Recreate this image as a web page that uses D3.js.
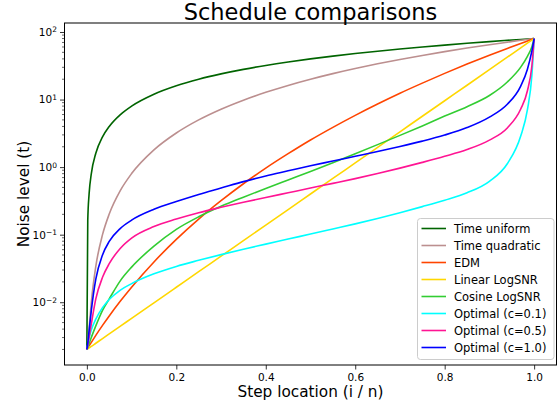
<!DOCTYPE html>
<html>
<head>
<meta charset="utf-8">
<script src="https://cdn.jsdelivr.net/npm/d3@7"></script>
<style>
    body { margin: 0; background: #fff; }
    #chart { width: 558px; height: 408px; }
    text { font-family: "DejaVu Sans", sans-serif; fill: #000; }
</style>
</head>
<body>
<div id="chart"></div>
<script>
// step location i / n, shared by every schedule
let stepLocations = [0, 0.002, 0.005, 0.01, 0.02, 0.035, 0.05, 0.075, 0.1, 0.15, 0.2, 0.25, 0.3, 0.35, 0.4,
    0.45, 0.5, 0.55, 0.6, 0.65, 0.7, 0.75, 0.8, 0.85, 0.9, 0.94, 0.97, 0.985, 0.995, 1.0];

// noise level, one list per schedule
let timeUniform = [0.002, 0.162, 0.402, 0.802, 1.60, 2.80, 4.00, 6.00, 8.00, 12.0, 16.0, 20.0, 24.0, 28.0, 32.0,
    36.0, 40.0, 44.0, 48.0, 52.0, 56.0, 60.0, 64.0, 68.0, 72.0, 75.2, 77.6, 78.8, 79.6, 80];
let timeQuadratic = [0.002, 0.0023, 0.004, 0.010, 0.034, 0.100, 0.202, 0.452, 0.802, 1.80, 3.20, 5.00, 7.20, 9.80, 12.8,
    16.2, 20.0, 24.2, 28.8, 33.8, 39.2, 45.0, 51.2, 57.8, 64.8, 70.7, 75.3, 77.6, 79.2, 80];
let edm = [0.002, 0.0021, 0.00226, 0.00255, 0.00323, 0.00454, 0.00627, 0.0104, 0.0167, 0.0395, 0.0851, 0.170, 0.318, 0.567, 0.966,
    1.58, 2.52, 3.88, 5.84, 8.59, 12.4, 17.5, 24.4, 33.5, 45.3, 57.2, 67.8, 73.7, 77.9, 80];
let linearLogSNR = [0.002, 0.00204, 0.00211, 0.00222, 0.00247, 0.0029, 0.0034, 0.00443, 0.00577, 0.0098, 0.01665, 0.0283, 0.048, 0.0816, 0.1386,
    0.235, 0.400, 0.680, 1.154, 1.96, 3.33, 5.66, 9.61, 16.3, 27.7, 42.4, 58.2, 68.3, 75.9, 80];
let cosineLogSNR = [0.002, 0.00214, 0.00245, 0.00302, 0.00447, 0.00759, 0.0112, 0.0209, 0.0331, 0.0676, 0.120, 0.184, 0.263, 0.359, 0.484,
    0.646, 0.861, 1.161, 1.578, 2.153, 2.951, 4.074, 5.689, 7.852, 11.48, 18.2, 30.2, 43.7, 60.3, 80];
let optimalC01 = [0.002, 0.00234, 0.00295, 0.00389, 0.00562, 0.00832, 0.01096, 0.01514, 0.01884, 0.0263, 0.0339, 0.0417, 0.0507, 0.0610, 0.0724,
    0.0861, 0.1023, 0.1216, 0.1445, 0.1738, 0.2113, 0.2600, 0.3236, 0.4169, 0.6166, 1.122, 2.884, 7.079, 22.91, 80];
let optimalC05 = [0.002, 0.00232, 0.00302, 0.00479, 0.0112, 0.0234, 0.0372, 0.0631, 0.0891, 0.132, 0.170, 0.211, 0.254, 0.302, 0.355,
    0.417, 0.490, 0.575, 0.676, 0.804, 0.966, 1.175, 1.445, 1.820, 2.512, 3.802, 7.244, 13.49, 31.62, 80];
let optimalC10 = [0.002, 0.00251, 0.00380, 0.00759, 0.0219, 0.0501, 0.0794, 0.124, 0.164, 0.237, 0.309, 0.394, 0.490, 0.610, 0.741,
    0.881, 1.047, 1.230, 1.445, 1.698, 2.018, 2.427, 2.985, 3.846, 5.495, 8.511, 15.85, 28.18, 52.48, 80];

let seriesNames = ["Time uniform", "Time quadratic", "EDM", "Linear LogSNR", "Cosine LogSNR",
    "Optimal (c=0.1)", "Optimal (c=0.5)", "Optimal (c=1.0)"];
let seriesValues = [timeUniform, timeQuadratic, edm, linearLogSNR, cosineLogSNR, optimalC01, optimalC05, optimalC10];
let seriesColors = ["darkgreen", "rosybrown", "orangered", "gold", "limegreen", "cyan", "deeppink", "blue"];

let xTicks = [0, 0.2, 0.4, 0.6, 0.8, 1.0];
let yTickExponents = [-2, -1, 0, 1, 2];

class ScheduleVis {
    constructor(parentElement) {
        this.parentElement = parentElement;
        this.displayData = seriesNames.map((name, i) => ({
            name: name,
            color: seriesColors[i],
            points: stepLocations.map((s, j) => ({x: s, y: seriesValues[i][j]}))
        }));
        this.initVis();
    }

    initVis() {
        let vis = this;

        vis.margin = {top: 23, right: 1.5, bottom: 43, left: 64.5};
        vis.width = 558 - vis.margin.left - vis.margin.right;
        vis.height = 408 - vis.margin.top - vis.margin.bottom;

        vis.root = d3.select("#" + vis.parentElement).append("svg")
            .attr("width", 558)
            .attr("height", 408);

        vis.svg = vis.root.append("g")
            .attr("transform", `translate(${vis.margin.left}, ${vis.margin.top})`);

        // matplotlib style 5% padding on both axes (log space for y)
        let all = seriesValues.flat();
        let lo = Math.log10(d3.min(all)), hi = Math.log10(d3.max(all));
        let pad = (hi - lo) * 0.05;

        vis.x = d3.scaleLinear()
            .domain([-0.05, 1.05])
            .range([0, vis.width]);

        vis.y = d3.scaleLog()
            .domain([Math.pow(10, lo - pad), Math.pow(10, hi + pad)])
            .range([vis.height, 0]);

        vis.updateVis();
    }

    updateVis() {
        let vis = this;

        let line = d3.line()
            .x(d => vis.x(d.x))
            .y(d => vis.y(d.y))
            .curve(d3.curveMonotoneX);

        vis.svg.selectAll("path.schedule")
            .data(vis.displayData)
            .enter().append("path")
            .attr("class", "schedule")
            .attr("fill", "none")
            .attr("stroke", d => d.color)
            .attr("stroke-width", 1.6)
            .attr("stroke-linejoin", "round")
            .attr("d", d => line(d.points));

        // x axis
        let xAxis = d3.axisBottom(vis.x)
            .tickValues(xTicks)
            .tickFormat(d3.format(".1f"))
            .tickSize(4.5)
            .tickPadding(4);

        vis.svg.append("g")
            .attr("class", "x-axis")
            .attr("transform", `translate(0, ${vis.height})`)
            .call(xAxis);

        // y axis, major ticks with 10^k labels
        let yAxis = d3.axisLeft(vis.y)
            .tickValues(yTickExponents.map(e => Math.pow(10, e)))
            .tickFormat("")
            .tickSize(4.5);

        let yG = vis.svg.append("g")
            .attr("class", "y-axis")
            .call(yAxis);

        yG.selectAll(".tick").append("text")
            .attr("x", -7.5)
            .attr("dy", "0.32em")
            .attr("text-anchor", "end")
            .style("font-size", "10.5px")
            .each(function(d) {
                let e = Math.round(Math.log10(d));
                let t = d3.select(this);
                t.append("tspan").text("10");
                t.append("tspan")
                    .attr("dy", "-0.45em")
                    .style("font-size", "7.5px")
                    .text(e < 0 ? "\u2212" + (-e) : String(e));
            });

        // minor ticks
        let dom = vis.y.domain();
        let minor = [];
        for (let k = -3; k <= 2; k++) {
            for (let m = 2; m <= 9; m++) {
                let v = m * Math.pow(10, k);
                if (v >= dom[0] && v <= dom[1]) minor.push(v);
            }
        }
        vis.svg.append("g")
            .selectAll("line.minor")
            .data(minor)
            .enter().append("line")
            .attr("x1", 0).attr("x2", -2.5)
            .attr("y1", d => vis.y(d)).attr("y2", d => vis.y(d))
            .attr("stroke", "#000")
            .attr("stroke-width", 0.6);

        vis.svg.selectAll(".domain").remove();
        vis.svg.selectAll(".tick line").attr("stroke", "#000").attr("stroke-width", 0.8);
        vis.svg.selectAll(".x-axis .tick text")
            .style("font-size", "10.5px")
            .style("font-family", "DejaVu Sans");

        // frame
        vis.svg.append("rect")
            .attr("width", vis.width)
            .attr("height", vis.height)
            .attr("fill", "none")
            .attr("stroke", "#000")
            .attr("stroke-width", 1);

        // labels
        vis.root.append("text")
            .attr("x", vis.margin.left + vis.width / 2)
            .attr("y", 19.5)
            .attr("text-anchor", "middle")
            .style("font-size", "22.5px")
            .text("Schedule comparisons");

        vis.root.append("text")
            .attr("x", vis.margin.left + vis.width / 2)
            .attr("y", 396.5)
            .attr("text-anchor", "middle")
            .style("font-size", "15.3px")
            .text("Step location (i / n)");

        vis.root.append("text")
            .attr("transform", `translate(28.5, ${vis.margin.top + vis.height / 2}) rotate(-90)`)
            .attr("text-anchor", "middle")
            .style("font-size", "15.3px")
            .text("Noise level (t)");

        // legend, lower right
        let lg = vis.svg.append("g")
            .attr("transform", `translate(${vis.width - 139}, ${vis.height - 146.5})`);

        lg.append("rect")
            .attr("width", 136.5)
            .attr("height", 141)
            .attr("rx", 3)
            .attr("fill", "#fff")
            .attr("fill-opacity", 0.8)
            .attr("stroke", "#ccc")
            .attr("stroke-width", 1);

        let items = lg.selectAll(".legend")
            .data(vis.displayData)
            .enter().append("g")
            .attr("class", "legend")
            .attr("transform", (d, i) => `translate(0, ${10 + i * 17})`);

        items.append("line")
            .attr("x1", 4).attr("x2", 28.5)
            .attr("stroke", d => d.color)
            .attr("stroke-width", 1.6);

        items.append("text")
            .attr("x", 36.5)
            .attr("dy", "0.36em")
            .style("font-size", "11.5px")
            .text(d => d.name);
    }
}

new ScheduleVis("chart");
</script>
</body>
</html>
